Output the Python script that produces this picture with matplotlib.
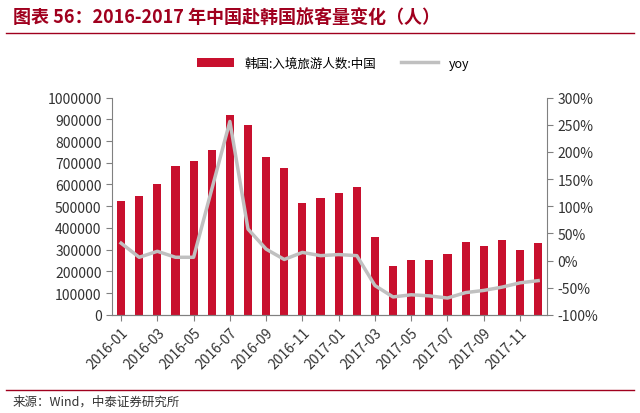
import matplotlib.pyplot as plt
from matplotlib.ticker import FuncFormatter

plt.rcParams['font.family'] = ['Noto Sans CJK SC', 'DejaVu Sans']

months = ['2016-01', '2016-02', '2016-03', '2016-04', '2016-05', '2016-06',
          '2016-07', '2016-08', '2016-09', '2016-10', '2016-11', '2016-12',
          '2017-01', '2017-02', '2017-03', '2017-04', '2017-05', '2017-06',
          '2017-07', '2017-08', '2017-09', '2017-10', '2017-11', '2017-12']
visitors = [523000, 545000, 600000, 683000, 706000, 758000, 918000, 875000,
            728000, 678000, 515000, 537000, 563000, 589000, 360000, 225000,
            252000, 252000, 280000, 337000, 318000, 346000, 297000, 332000]
yoy = [32, 6, 17, 6, 6, 131, 256, 58, 21, 2, 15, 9,
       11, 9, -46, -67, -63, -65, -69, -59, -55, -49, -41, -37]

fig = plt.figure(figsize=(6.4, 4.14), dpi=100)
ax = fig.add_axes([0.175, 0.237, 0.68, 0.525])
x = range(len(months))
bars = ax.bar(x, visitors, width=0.45, color='#c8102e', label='韩国:入境旅游人数:中国')
ax.set_ylim(0, 1000000)
ax.set_yticks(range(0, 1000001, 100000))
ax.yaxis.set_major_formatter(FuncFormatter(lambda v, p: f'{int(v)}'))
ax.set_xlim(-0.5, len(months) - 0.5)
ax.set_xticks(list(x)[::2])
ax.set_xticklabels(months[::2], rotation=45, ha='right', rotation_mode='anchor')

ax2 = ax.twinx()
line, = ax2.plot(x, yoy, color='#c0c0c0', lw=2.5, label='yoy')
ax2.set_ylim(-100, 300)
ax2.set_yticks(range(-100, 301, 50))
ax2.yaxis.set_major_formatter(FuncFormatter(lambda v, p: f'{int(v)}%'))

for a in (ax, ax2):
    a.spines['top'].set_visible(False)
    for s in ('left', 'right', 'bottom'):
        a.spines[s].set_color('#808080')
    a.tick_params(colors='#333333', labelsize=10, length=4, color='#808080')
ax2.spines['left'].set_visible(False)
ax.spines['right'].set_visible(False)

fig.legend([bars, line], ['韩国:入境旅游人数:中国', 'yoy'], loc='center',
           bbox_to_anchor=(0.52, 0.845), ncol=2, frameon=False, fontsize=9,
           handlelength=3)

fig.text(0.02, 0.955, '图表 56：2016-2017 年中国赴韩国旅客量变化（人）', fontsize=13,
         fontweight='bold', style='italic', color='#a0001e', va='center')
fig.add_artist(plt.Line2D([0.01, 0.99], [0.918, 0.918], color='#a0001e', lw=1))
fig.add_artist(plt.Line2D([0.01, 0.99], [0.055, 0.055], color='#a0001e', lw=1))
fig.text(0.02, 0.028, '来源：Wind，中泰证券研究所', fontsize=9, color='#333333', va='center')

fig.savefig('out.png')
